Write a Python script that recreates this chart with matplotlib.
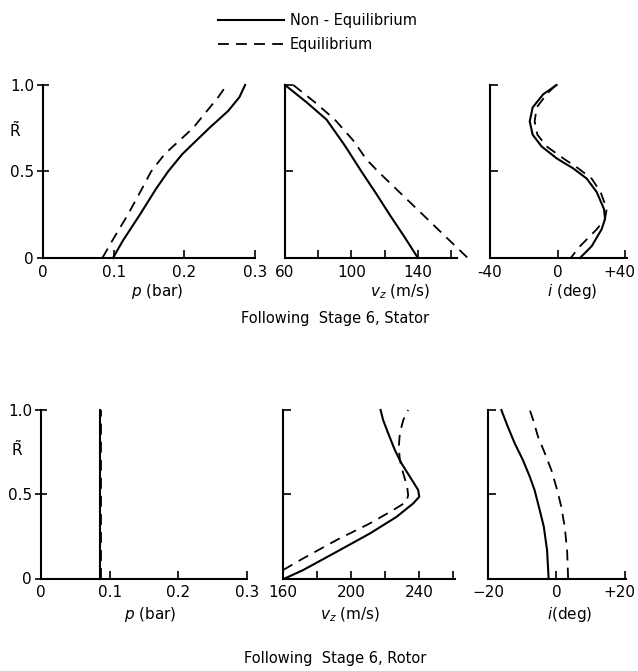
import numpy as np
import matplotlib
matplotlib.use("Agg")
import matplotlib.pyplot as plt
import matplotlib.transforms as mtransforms
from matplotlib.lines import Line2D

plt.rcParams['font.family'] = ['DejaVu Sans']
plt.rcParams['mathtext.fontset'] = 'dejavusans'

# ---- Stage 6, stator ----
stator_p_ne_R = [0.0, 0.1, 0.25, 0.4, 0.5, 0.6, 0.75, 0.85, 0.93, 1.0]
stator_p_ne   = [0.099, 0.113, 0.137, 0.160, 0.177, 0.197, 0.235, 0.262, 0.278, 0.286]
stator_p_eq_R = [0.0, 0.1, 0.25, 0.4, 0.5, 0.6, 0.75, 0.85, 0.93, 1.0]
stator_p_eq   = [0.084, 0.098, 0.120, 0.140, 0.153, 0.172, 0.212, 0.232, 0.248, 0.260]

stator_vz_ne_R = [1.0, 0.9, 0.8, 0.65, 0.5, 0.37, 0.25, 0.12, 0.0]
stator_vz_ne   = [60, 73, 85, 96, 106, 115, 123, 132, 140]
stator_vz_eq_R = [1.0, 0.9, 0.8, 0.68, 0.57, 0.5, 0.37, 0.25, 0.12, 0.0]
stator_vz_eq   = [65, 78, 90, 101, 109, 116, 130, 143, 157, 170]

stator_i_ne_R = [1.0, 0.947, 0.87, 0.79, 0.713, 0.645, 0.576, 0.518, 0.459, 0.381,
                 0.283, 0.225, 0.166, 0.068, 0.0]
stator_i_ne   = [-0.6, -8.5, -14.8, -16.5, -14.8, -9.5, -0.6, 9.2, 17.2, 23.1,
                 27.4, 28.0, 26.0, 20.1, 13.2]
stator_i_eq_R = [1.0, 0.947, 0.87, 0.79, 0.713, 0.645, 0.576, 0.518, 0.459, 0.381,
                 0.283, 0.225, 0.166, 0.068, 0.0]
stator_i_eq   = [-1.0, -6.5, -12.4, -13.6, -12.0, -6.5, 3.3, 12.2, 20.1, 25.4,
                 29.0, 28.0, 23.1, 13.2, 7.7]

# ---- Stage 6, rotor ----
rotor_p_R  = [0.0, 1.0]
rotor_p_ne = [0.086, 0.086]
rotor_p_eq = [0.088, 0.088]

rotor_vz_ne_R = [0.0, 0.05, 0.158, 0.267, 0.366, 0.446, 0.485, 0.525, 0.604, 0.683,
                 0.762, 0.861, 0.94, 1.0]
rotor_vz_ne   = [161, 171.8, 191.4, 211, 226.7, 236.5, 240, 239.4, 234.5, 229.6,
                 225.7, 221.8, 218.8, 217.3]
rotor_vz_eq_R = [0.05, 0.119, 0.228, 0.327, 0.406, 0.455, 0.495, 0.545, 0.624, 0.703,
                 0.782, 0.861, 0.94, 1.0]
rotor_vz_eq   = [160, 171.8, 191.4, 211, 224.7, 232.5, 233.5, 232.9, 230.6, 228.6,
                 228, 228.6, 230.6, 233.5]

rotor_i_ne_R = [0.0, 0.168, 0.307, 0.406, 0.525, 0.604, 0.703, 0.802, 0.9, 1.0]
rotor_i_ne   = [-2.3, -2.75, -3.7, -4.9, -6.4, -7.8, -9.8, -12.2, -14.2, -16.1]
rotor_i_eq_R = [0.0, 0.168, 0.307, 0.426, 0.525, 0.644, 0.743, 0.842, 0.94, 1.0]
rotor_i_eq   = [3.4, 3.1, 2.4, 1.4, 0.2, -1.5, -3.4, -5.4, -6.8, -7.8]

W, H = 638, 671
fig = plt.figure(figsize=(W / 100, H / 100), dpi=100)


def make_ax(x0, x1, ytop, ybot):
    return fig.add_axes([x0 / W, 1 - ybot / H, (x1 - x0) / W, (ybot - ytop) / H])


def style(ax, xlim, xt, xtl, minor=None, left=False):
    ax.set_xlim(*xlim)
    ax.set_ylim(0, 1.0)
    for s in ['top', 'right']:
        ax.spines[s].set_visible(False)
    for s in ['left', 'bottom']:
        ax.spines[s].set_linewidth(1.5)
    ax.set_xticks(xt)
    ax.set_xticklabels(xtl, fontsize=11)
    if minor is not None:
        ax.set_xticks(minor, minor=True)
    ax.tick_params(axis='x', which='both', direction='in', length=6, width=1.2, pad=5)
    ax.set_yticks([0, 0.5, 1.0])
    if left:
        ax.set_yticklabels(['0', '0.5', '1.0'], fontsize=11)
        ax.tick_params(axis='y', direction='inout', length=9, width=1.2, pad=2)
    else:
        ax.set_yticklabels([])
        ax.tick_params(axis='y', direction='in', length=6, width=1.2)


def curves(ax, xs_ne, ys_ne, xs_eq, ys_eq):
    ax.plot(xs_ne, ys_ne, '-', color='black', lw=1.5, clip_on=False)
    ax.plot(xs_eq, ys_eq, '--', color='black', lw=1.3, dashes=(6, 4), clip_on=False)


top, bot = 85, 258
a1 = make_ax(43, 255, top, bot)
a2 = make_ax(285, 457, top, bot)
a3 = make_ax(490, 627, top, bot)
curves(a1, stator_p_ne, stator_p_ne_R, stator_p_eq, stator_p_eq_R)
curves(a2, stator_vz_ne, stator_vz_ne_R, stator_vz_eq, stator_vz_eq_R)
curves(a3, stator_i_ne, stator_i_ne_R, stator_i_eq, stator_i_eq_R)
style(a1, (0, 0.3), [0, 0.1, 0.2, 0.3], ['0', '0.1', '0.2', '0.3'], left=True)
style(a2, (60, 163.5), [60, 100, 140], ['60', '100', '140'], minor=[80, 120, 160])
style(a3, (-40, 41), [-40, 0, 40], ['-40', '0', '+40'])

top2, bot2 = 410, 578.5
b1 = make_ax(41, 247, top2, bot2)
b2 = make_ax(283, 455, top2, bot2)
b3 = make_ax(488, 626, top2, bot2)
curves(b1, rotor_p_ne, rotor_p_R, rotor_p_eq, rotor_p_R)
curves(b2, rotor_vz_ne, rotor_vz_ne_R, rotor_vz_eq, rotor_vz_eq_R)
curves(b3, rotor_i_ne, rotor_i_ne_R, rotor_i_eq, rotor_i_eq_R)
style(b1, (0, 0.3), [0, 0.1, 0.2, 0.3], ['0', '0.1', '0.2', '0.3'], left=True)
style(b2, (160, 261), [160, 200, 240], ['160', '200', '240'], minor=[180, 220, 260])
style(b3, (-20, 20.3), [-20, 0, 20], ['\u221220', '0', '+20'])

# keep the "+40" / "+20" labels inside the picture
shift = mtransforms.ScaledTranslation(-6 / 100, 0, fig.dpi_scale_trans)
for ax in (a3, b3):
    lab = ax.get_xticklabels()[-1]
    lab.set_transform(lab.get_transform() + shift)

# axis labels
labels = [(a1, r'$p$ (bar)', 0.54, -0.14), (a2, r'$v_z$ (m/s)', 0.67, -0.14),
          (a3, r'$i$ (deg)', 0.6, -0.14), (b1, r'$p$ (bar)', 0.53, -0.16),
          (b2, r'$v_z$ (m/s)', 0.39, -0.16), (b3, r'$i$(deg)', 0.59, -0.16)]
for ax, txt, lx, ly in labels:
    ax.set_xlabel(txt, fontsize=11)
    ax.xaxis.set_label_coords(lx, ly)

a1.text(-0.13, 0.74, r'$\tilde{\mathrm{R}}$', transform=a1.transAxes, fontsize=11,
        ha='center', va='center')
b1.text(-0.117, 0.77, r'$\tilde{\mathrm{R}}$', transform=b1.transAxes, fontsize=11,
        ha='center', va='center')

fig.text(335 / W, 1 - 318 / H, 'Following  Stage 6, Stator', fontsize=10.5,
         ha='center', va='center')
fig.text(335 / W, 1 - 658 / H, 'Following  Stage 6, Rotor', fontsize=10.5,
         ha='center', va='center')

handles = [Line2D([], [], color='black', lw=1.5),
           Line2D([], [], color='black', lw=1.3, ls='--', dashes=(6, 4))]
fig.legend(handles, ['Non - Equilibrium', 'Equilibrium'], loc='upper left',
           bbox_to_anchor=(205 / W, 1 - 0 / H), frameon=False, fontsize=10.5,
           handlelength=4.5, handletextpad=0.4, labelspacing=0.6)

fig.savefig('out.png', dpi=100, facecolor='white')
